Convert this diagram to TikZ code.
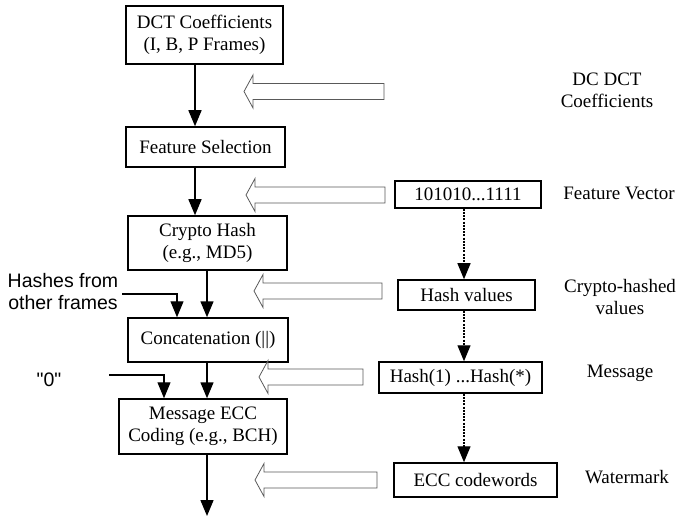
\documentclass[tikz,border=0pt]{standalone}
\usepackage{fontspec}
\setmainfont{Liberation Serif}
\newfontfamily\labelsans{Liberation Sans}
\usetikzlibrary{arrows.meta}

\tikzset{
  stage/.style={draw, line width=1.5pt, inner sep=0pt, align=center,
    font=\fontsize{19}{22}\selectfont},
  datum/.style={draw, line width=1.5pt, inner sep=0pt, align=center,
    font=\fontsize{19}{22}\selectfont},
  tag/.style={inner sep=0pt, align=center, font=\fontsize{19}{22}\selectfont},
  sidetag/.style={inner sep=0pt, align=center, font=\labelsans\fontsize{19.5}{22}\selectfont},
  flow/.style={line width=1.5pt, -{Triangle[length=16pt,width=13pt]}},
  feed/.style={line width=1.1pt, -{Triangle[length=16pt,width=13pt]}},
  derive/.style={line width=1.2pt, dash pattern=on 2pt off 1.2pt,
    -{Triangle[length=16pt,width=13pt]}},
  hollow/.style={draw=black!65, line width=0.8pt, line join=miter}
}

% open block arrow pointing left: tip x, centre y, tail x
\newcommand\openleftarrow[3]{%
  \draw[hollow] (#1,#2) -- (#1+9,#2-16.5) -- (#1+9,#2-8) -- (#3,#2-8)
    -- (#3,#2+8) -- (#1+9,#2+8) -- (#1+9,#2+16.5) -- cycle;}

\begin{document}
\begin{tikzpicture}[x=1pt,y=-1pt]
\useasboundingbox (0,0) rectangle (679,518);

% processing chain
\node[stage, minimum width=157pt, minimum height=58pt] (dct) at (204.5,35)
  {DCT Coefficients\\(I, B, P Frames)};
\node[stage, minimum width=159pt, minimum height=40pt] (sel) at (205.5,147)
  {Feature Selection};
\node[stage, minimum width=159pt, minimum height=54pt] (hash) at (207.5,243)
  {Crypto Hash\\(e.g., MD5)};
\node[stage, minimum width=160pt, minimum height=44pt] (cat) at (208,340)
  {Concatenation (||)};
\node[stage, minimum width=168pt, minimum height=55pt] (ecc) at (203,426.5)
  {Message ECC\\Coding (e.g., BCH)};

\coordinate (colA) at (195,0);
\coordinate (colB) at (207,0);
\coordinate (out) at (207,516);

\draw[flow] (dct.south -| colA) -- (sel.north -| colA);
\draw[flow] (sel.south -| colA) -- (hash.north -| colA);
\draw[flow] (hash.south -| colB) -- (cat.north -| colB);
\draw[flow] (cat.south -| colB) -- (ecc.north -| colB);
\draw[flow] (ecc.south -| colB) -- (out);

% side inputs
\node[sidetag] (others) at (63,292) {Hashes from\\other frames};
\coordinate (othersin) at (122,294);
\coordinate (othersx) at (177,0);
\draw[feed] (othersin) -| (cat.north -| othersx);

\node[sidetag] (zero) at (49,380) {"0"};
\coordinate (zeroin) at (109,375);
\coordinate (zerox) at (164,0);
\draw[feed] (zeroin) -| (ecc.north -| zerox);

% data produced at each step
\node[datum, minimum width=146pt, minimum height=27pt] (vec) at (468,194.5)
  {101010...1111};
\node[datum, minimum width=137pt, minimum height=30pt] (hv) at (466.5,295)
  {Hash values};
\node[datum, minimum width=163pt, minimum height=31pt] (msg) at (460.5,377.5)
  {Hash(1) ...Hash(*)};
\node[datum, minimum width=163pt, minimum height=34pt] (cw) at (475.5,480)
  {ECC codewords};

\coordinate (colD) at (464,0);
\draw[derive] (vec.south -| colD) -- (hv.north -| colD);
\draw[derive] (hv.south -| colD) -- (msg.north -| colD);
\draw[derive] (msg.south -| colD) -- (cw.north -| colD);

% open arrows linking data to the chain
\openleftarrow{244}{91.5}{384}
\openleftarrow{246}{195}{385}
\openleftarrow{254}{291}{382}
\openleftarrow{259}{377}{363}
\openleftarrow{255}{480}{377}

% data names
\node[tag] (dcname) at (607,90) {DC DCT\\Coefficients};
\node[tag] (fvname) at (619,193) {Feature Vector};
\node[tag] (chname) at (620,297.5) {Crypto-hashed\\values};
\node[tag] (msgname) at (620,373) {Message};
\node[tag] (wmname) at (627,477) {Watermark};
\end{tikzpicture}
\end{document}
